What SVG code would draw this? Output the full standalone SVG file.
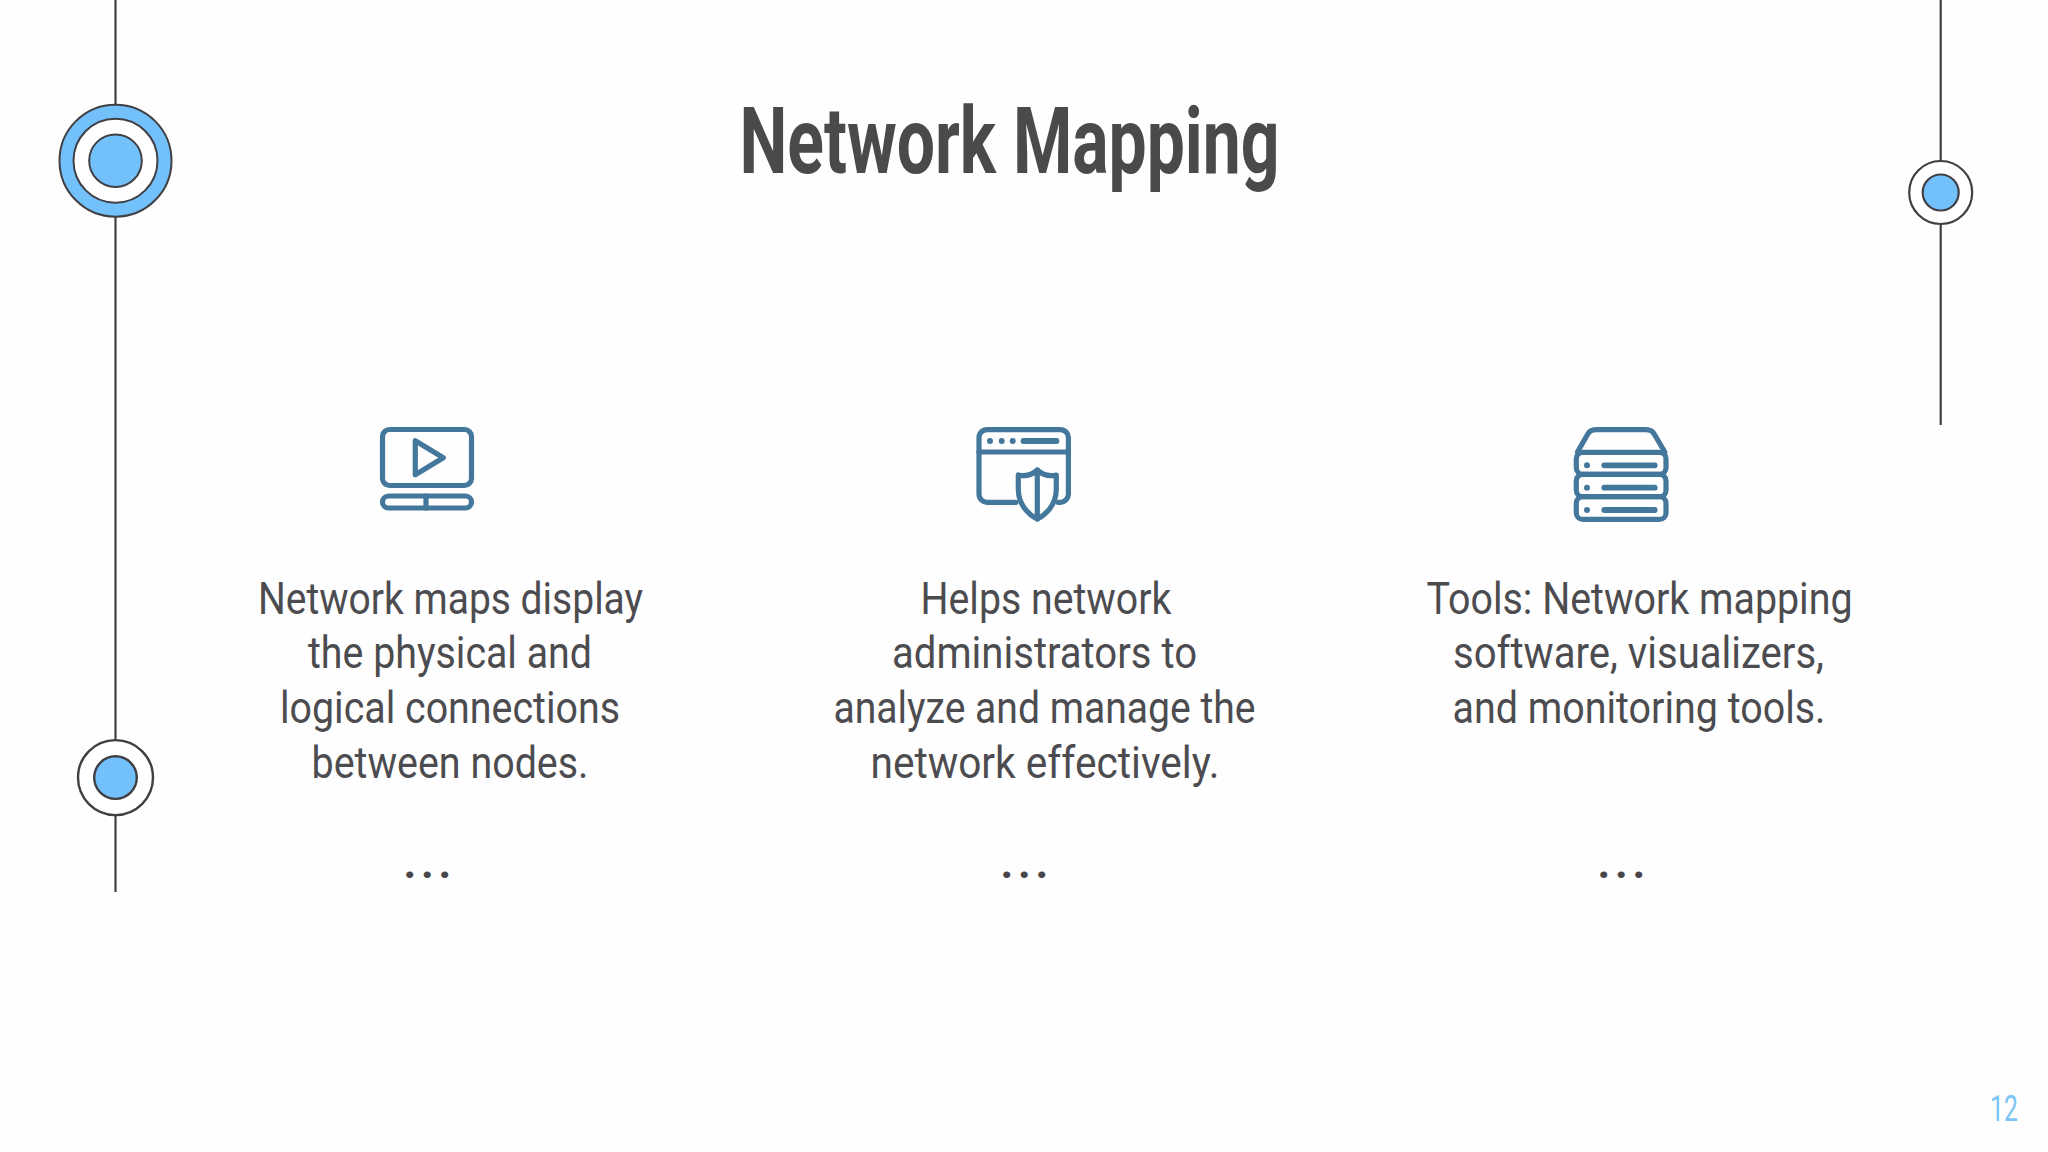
<svg xmlns="http://www.w3.org/2000/svg" width="2048" height="1152" viewBox="0 0 2048 1152">
<style>
.ln{stroke:#3f3f44;fill:none}
.blue{fill:#73c1fb;stroke:#3f3f44}
.wht{fill:#fff;stroke:#3f3f44}
.ic{fill:none;stroke:#44779c;stroke-width:5.2;stroke-linecap:round;stroke-linejoin:round}
.dot{fill:#44779c}
.bar{fill:none;stroke:#44779c;stroke-width:5.8;stroke-linecap:round}
.body{font-family:"Roboto","Liberation Sans",sans-serif;font-size:44px;font-weight:400;fill:#4c4c50}
.more{font-weight:700;letter-spacing:4.8px;fill:#47474b}
.title{font-family:"Roboto","Liberation Sans",sans-serif;font-size:93px;font-weight:700;fill:#4a4a4d}
.num{font-family:"Roboto","Liberation Sans",sans-serif;font-size:36px;font-weight:400;fill:#7cc4f5}
</style>
<rect width="2048" height="1152" fill="#fefefe"/>
<g id="connectors">
<line class="ln" stroke-width="2.2" x1="115.5" y1="0" x2="115.5" y2="892"/>
<line class="ln" stroke-width="2.2" x1="1940.7" y1="0" x2="1940.7" y2="425"/>
</g>
<g id="node-left-top">
<circle class="blue" stroke-width="2" cx="115.5" cy="160.7" r="56"/>
<circle class="wht" stroke-width="2" cx="115.5" cy="160.7" r="42"/>
<circle class="blue" stroke-width="2" cx="115.5" cy="160.7" r="26.3"/>
</g>
<g id="node-left-bottom">
<circle class="wht" stroke-width="2.4" cx="115.5" cy="777.6" r="37.5"/>
<circle class="blue" stroke-width="2.4" cx="115.5" cy="777.6" r="21.3"/>
</g>
<g id="node-right">
<circle class="wht" stroke-width="2.2" cx="1940.7" cy="192.5" r="31.5"/>
<circle class="blue" stroke-width="2.2" cx="1940.7" cy="192.5" r="18"/>
</g>
<g id="title"><text class="title" x="739.5" y="173" textLength="540" lengthAdjust="spacingAndGlyphs">Network Mapping</text></g>
<g id="card-1">
<g id="icon-monitor">
<rect class="ic" x="382.5" y="429.5" width="89" height="56" rx="7"/>
<path class="ic" d="M415.3 440.7V474.7L443.3 457.7Z"/>
<rect class="ic" x="382.5" y="496" width="89" height="12" rx="6"/>
<line class="ic" x1="426" y1="496" x2="426" y2="508"/>
</g>
<text class="body" x="258" y="613.5" textLength="385" lengthAdjust="spacingAndGlyphs">Network maps display</text>
<text class="body" x="308" y="668" textLength="284" lengthAdjust="spacingAndGlyphs">the physical and</text>
<text class="body" x="280" y="722.5" textLength="340" lengthAdjust="spacingAndGlyphs">logical connections</text>
<text class="body" x="311.5" y="777.5" textLength="277" lengthAdjust="spacingAndGlyphs">between nodes.</text>
<text class="body more" x="403.4" y="878">...</text>
</g>
<g id="card-2">
<g id="icon-shield">
<path class="ic" d="M1016 502.3H987a8 8 0 0 1-8-8V437.6a8 8 0 0 1 8-8H1060.4a8 8 0 0 1 8 8V494.3a8 8 0 0 1-8 8H1058"/>
<line class="ic" x1="979" y1="452" x2="1068.4" y2="452"/>
<circle class="dot" cx="990" cy="441" r="3"/>
<circle class="dot" cx="1001.7" cy="441" r="3"/>
<circle class="dot" cx="1012.7" cy="441" r="3"/>
<line class="bar" x1="1023.5" y1="441" x2="1056.5" y2="441"/>
<path class="ic" d="M1037.3 470C1032 475 1025 476.5 1018.3 475V489C1018.3 505 1029 515 1037.3 519C1045.6 515 1056.3 505 1056.3 489V475C1049.6 476.5 1042.6 475 1037.3 470Z"/>
<line class="ic" x1="1037.3" y1="470" x2="1037.3" y2="519"/>
</g>
<text class="body" x="920.5" y="613.5" textLength="251" lengthAdjust="spacingAndGlyphs">Helps network</text>
<text class="body" x="892" y="668" textLength="305" lengthAdjust="spacingAndGlyphs">administrators to</text>
<text class="body" x="833.5" y="722.5" textLength="422" lengthAdjust="spacingAndGlyphs">analyze and manage the</text>
<text class="body" x="870.5" y="777.5" textLength="349" lengthAdjust="spacingAndGlyphs">network effectively.</text>
<text class="body more" x="1000.4" y="878">...</text>
</g>
<g id="card-3">
<g id="icon-server">
<path class="ic" d="M1577.5 452L1587.5 434.5Q1590 429.6 1596 429.6H1646Q1652 429.6 1654.5 434.5L1664.8 452"/>
<rect class="ic" x="1576.3" y="452.3" width="89.7" height="22" rx="6.5"/>
<rect class="ic" x="1576.3" y="474.3" width="89.7" height="22.4" rx="6.5"/>
<rect class="ic" x="1576.3" y="496.7" width="89.7" height="22.7" rx="6.5"/>
<circle class="dot" cx="1587" cy="465.3" r="3"/>
<circle class="dot" cx="1587" cy="487.7" r="3"/>
<circle class="dot" cx="1587" cy="510" r="3"/>
<line class="bar" x1="1604.3" y1="465.3" x2="1654.7" y2="465.3"/>
<line class="bar" x1="1604.3" y1="487.7" x2="1654.7" y2="487.7"/>
<line class="bar" x1="1604.3" y1="510" x2="1654.7" y2="510"/>
</g>
<text class="body" x="1426.5" y="613.5" textLength="426" lengthAdjust="spacingAndGlyphs">Tools: Network mapping</text>
<text class="body" x="1453" y="668" textLength="371" lengthAdjust="spacingAndGlyphs">software, visualizers,</text>
<text class="body" x="1452.5" y="722.5" textLength="373" lengthAdjust="spacingAndGlyphs">and monitoring tools.</text>
<text class="body more" x="1597.4" y="878">...</text>
</g>
<g id="page-number"><text class="num" x="1990" y="1121" textLength="28" lengthAdjust="spacingAndGlyphs">12</text></g>
</svg>
